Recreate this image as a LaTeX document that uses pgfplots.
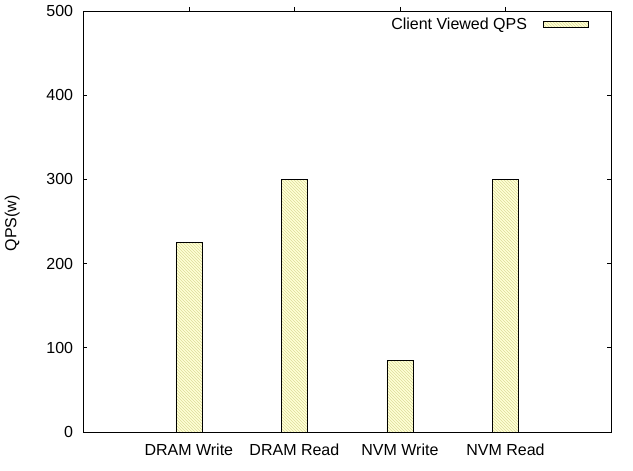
\documentclass[border=0pt]{standalone}
\usepackage{pgfplots}
\pgfplotsset{compat=1.18}
\usepackage{fontspec}
\setmainfont{Liberation Sans}
\usetikzlibrary{patterns}
\definecolor{barfill}{HTML}{FFFFD6}
\definecolor{hatch}{HTML}{DCDC9A}
\begin{document}
\fontsize{16}{19}\selectfont
\begin{tikzpicture}
\path[use as bounding box] (-83.3pt,-39pt) rectangle (549.7pt,432pt);
\begin{axis}[
  at={(0pt,0pt)}, anchor=south west,
  scale only axis,
  width=527.7pt, height=421pt,
  xmin=-1, xmax=4, ymin=0, ymax=500,
  ytick={0,100,200,300,400,500},
  xtick={0,1,2,3},
  xticklabels={DRAM Write,DRAM Read,NVM Write,NVM Read},
  tick align=inside,
  major tick length=4pt,
  xtick pos=upper,
  xticklabel pos=lower,
  ytick pos=both,
  yticklabel pos=left,
  tick style={black, line width=0.6pt},
  axis line style={line width=0.8pt},
  /pgf/number format/assume math mode=true,
  yticklabel style={inner sep=0pt, anchor=east, xshift=-10pt},
  xticklabel style={inner sep=0pt, anchor=north, yshift=-8pt},
  ylabel={QPS(w)},
  ylabel style={at={(axis description cs:-0.1345,0.496)}, anchor=center, rotate=0},
  ybar, bar width=26pt,
  legend plot pos=right,
  legend style={draw=none, fill=none, at={(0.958,0.968)}, anchor=east,
    inner sep=0pt, font=\fontsize{16}{19}\selectfont},
  legend image code/.code={\path (0pt,0pt); \draw[#1, line width=0.6pt] (14pt,-3pt) rectangle (59pt,3pt);},
]
\addplot[draw=black, line width=0.6pt, fill=barfill,
  postaction={pattern=north west lines, pattern color=hatch}]
  coordinates {(0,225) (1,300) (2,85) (3,300)};
\addlegendentry{Client Viewed QPS}
\end{axis}
\end{tikzpicture}
\end{document}
